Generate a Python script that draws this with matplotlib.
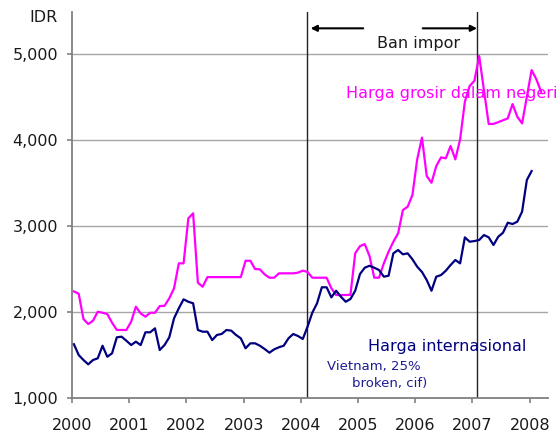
"""
Harga beras: grosir dalam negeri vs internasional (IDR/kg), 2000-2008.
"""

import matplotlib
matplotlib.use('Agg')
import matplotlib.pyplot as plt
import numpy as np

# monthly values starting Jan 2000
domestic = [2244, 2217, 1923, 1865, 1904, 2008, 1996, 1981, 1880, 1796,
            1796, 1796, 1892, 2066, 1989, 1950, 1996, 1996, 2074, 2076,
            2164, 2280, 2570, 2570, 3093, 3151, 2345, 2298, 2410, 2410,
            2410, 2410, 2410, 2410, 2410, 2410, 2600, 2600, 2504, 2500,
            2442, 2403, 2403, 2454, 2454, 2454, 2454, 2462, 2485, 2470,
            2403, 2403, 2403, 2403, 2280, 2202, 2202, 2202, 2205, 2686,
            2770, 2794, 2655, 2403, 2403, 2570, 2705, 2821, 2919, 3189,
            3228, 3364, 3778, 4030, 3584, 3506, 3700, 3801, 3790, 3933,
            3778, 4010, 4447, 4630, 4691, 4978, 4583, 4188, 4190, 4210,
            4232, 4254, 4420, 4273, 4196, 4505, 4815, 4707, 4563]

international = [1630, 1505, 1447, 1397, 1447, 1467, 1613, 1485, 1525, 1711,
                 1718, 1671, 1621, 1660, 1621, 1769, 1769, 1815, 1563, 1621,
                 1711, 1931, 2048, 2152, 2124, 2106, 1796, 1776, 1776, 1679,
                 1738, 1750, 1796, 1788, 1738, 1699, 1583, 1641, 1641, 1613,
                 1575, 1532, 1571, 1595, 1613, 1699, 1749, 1726, 1691, 1834,
                 1997, 2106, 2292, 2292, 2175, 2252, 2182, 2124, 2156, 2252,
                 2446, 2519, 2542, 2519, 2492, 2415, 2426, 2686, 2725, 2675,
                 2686, 2617, 2531, 2470, 2376, 2252, 2415, 2434, 2484, 2550,
                 2609, 2570, 2872, 2821, 2829, 2841, 2899, 2872, 2783, 2879,
                 2926, 3042, 3027, 3054, 3170, 3538, 3642]

years = list(range(2000, 2009))
yticks = [1000, 2000, 3000, 4000, 5000]
ytick_labels = ['1,000', '2,000', '3,000', '4,000', '5,000']

ban_start, ban_end = 2004.1, 2007.08

x_dom = 2000 + (np.arange(len(domestic)) + 0.4) / 12
x_int = 2000 + (np.arange(len(international)) + 0.4) / 12

fig = plt.figure(figsize=(5.6, 4.34), dpi=100)
ax = fig.add_axes([0.1286, 0.0818, 0.85, 0.8906])

for y in yticks[1:]:
    ax.axhline(y, color='#a6a6a6', linewidth=1.0, zorder=1)

ax.axvline(ban_start, color='#222222', linewidth=1.0, zorder=2)
ax.axvline(ban_end, color='#222222', linewidth=1.0, zorder=2)

ax.plot(x_dom, domestic, color='#ff00ff', linewidth=1.6, zorder=3)
ax.plot(x_int, international, color='#000080', linewidth=1.6, zorder=3)

# ban period arrows
arrow = dict(arrowstyle='-|>', color='black', linewidth=1.5,
             mutation_scale=9, shrinkA=0, shrinkB=0)
ax.annotate('', xy=(2004.17, 5300), xytext=(2005.09, 5300), arrowprops=arrow)
ax.annotate('', xy=(ban_end, 5300), xytext=(2006.13, 5300), arrowprops=arrow)
ax.text(2006.05, 5120, 'Ban impor', fontsize=11.5, color='#1a1a1a',
        ha='center', va='center')

ax.text(2004.79, 4545, 'Harga grosir dalam negeri', fontsize=11.5,
        color='#ff00ff', va='center')
ax.text(2005.18, 1600, 'Harga internasional', fontsize=11.5,
        color='#000080', va='center')
ax.text(2004.45, 1375, 'Vietnam, 25%', fontsize=9.5, color='#1c1c94',
        va='center')
ax.text(2004.9, 1180, 'broken, cif)', fontsize=9.5, color='#1c1c94',
        va='center')

ax.text(-0.031, 0.985, 'IDR', transform=ax.transAxes, fontsize=11.5,
        color='#1a1a1a', ha='right', va='center')

ax.set_xlim(2000, 2008.32)
ax.set_ylim(1000, 5490)
ax.set_xticks(years)
ax.set_xticklabels([str(y) for y in years])
ax.set_yticks(yticks)
ax.set_yticklabels(ytick_labels)

for side in ['top', 'right']:
    ax.spines[side].set_visible(False)
for side in ['left', 'bottom']:
    ax.spines[side].set_color('#808080')
    ax.spines[side].set_linewidth(1.3)

ax.tick_params(axis='both', colors='#808080', length=3.5, width=1.2,
               labelcolor='#1a1a1a', labelsize=11.5)
ax.tick_params(axis='y', pad=6.5)
ax.tick_params(axis='x', pad=10.5)

plt.savefig('out.png', dpi=100)
plt.close()
print("saved out.png")
